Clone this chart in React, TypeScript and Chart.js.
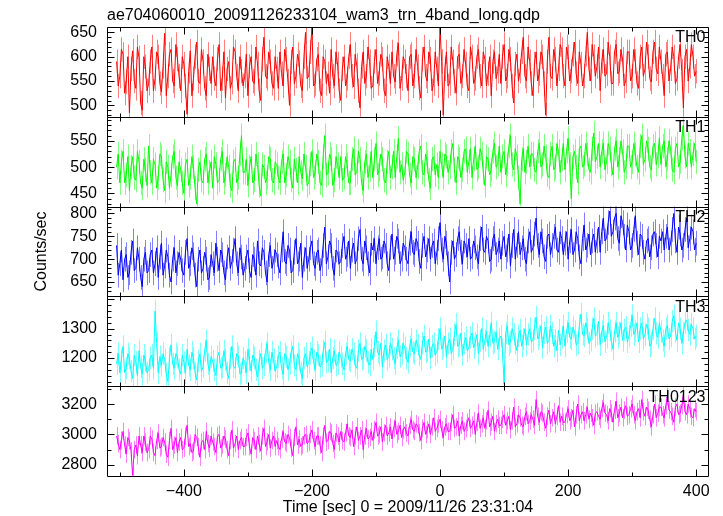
import { useEffect, useRef } from "react";
import { Chart, registerables } from "chart.js";

Chart.register(...registerables);

const titleText = "ae704060010_20091126233104_wam3_trn_4band_long.qdp";
const xTitle = "Time [sec] 0 = 2009/11/26 23:31:04";
const yTitle = "Counts/sec";

const times = [
  -505, -502.5, -500, -497.5, -495, -492.5, -490, -487.5, -485, -482.5, -480, -477.5, -475, -472.5, -470, -467.5, -465, -462.5, -460, -457.5,
  -455, -452.5, -450, -447.5, -445, -442.5, -440, -437.5, -435, -432.5, -430, -427.5, -425, -422.5, -420, -417.5, -415, -412.5, -410, -407.5,
  -405, -402.5, -400, -397.5, -395, -392.5, -390, -387.5, -385, -382.5, -380, -377.5, -375, -372.5, -370, -367.5, -365, -362.5, -360, -357.5,
  -355, -352.5, -350, -347.5, -345, -342.5, -340, -337.5, -335, -332.5, -330, -327.5, -325, -322.5, -320, -317.5, -315, -312.5, -310, -307.5,
  -305, -302.5, -300, -297.5, -295, -292.5, -290, -287.5, -285, -282.5, -280, -277.5, -275, -272.5, -270, -267.5, -265, -262.5, -260, -257.5,
  -255, -252.5, -250, -247.5, -245, -242.5, -240, -237.5, -235, -232.5, -230, -227.5, -225, -222.5, -220, -217.5, -215, -212.5, -210, -207.5,
  -205, -202.5, -200, -197.5, -195, -192.5, -190, -187.5, -185, -182.5, -180, -177.5, -175, -172.5, -170, -167.5, -165, -162.5, -160, -157.5,
  -155, -152.5, -150, -147.5, -145, -142.5, -140, -137.5, -135, -132.5, -130, -127.5, -125, -122.5, -120, -117.5, -115, -112.5, -110, -107.5,
  -105, -102.5, -100, -97.5, -95, -92.5, -90, -87.5, -85, -82.5, -80, -77.5, -75, -72.5, -70, -67.5, -65, -62.5, -60, -57.5,
  -55, -52.5, -50, -47.5, -45, -42.5, -40, -37.5, -35, -32.5, -30, -27.5, -25, -22.5, -20, -17.5, -15, -12.5, -10, -7.5,
  -5, -2.5, 0, 2.5, 5, 7.5, 10, 12.5, 15, 17.5, 20, 22.5, 25, 27.5, 30, 32.5, 35, 37.5, 40, 42.5,
  45, 47.5, 50, 52.5, 55, 57.5, 60, 62.5, 65, 67.5, 70, 72.5, 75, 77.5, 80, 82.5, 85, 87.5, 90, 92.5,
  95, 97.5, 100, 102.5, 105, 107.5, 110, 112.5, 115, 117.5, 120, 122.5, 125, 127.5, 130, 132.5, 135, 137.5, 140, 142.5,
  145, 147.5, 150, 152.5, 155, 157.5, 160, 162.5, 165, 167.5, 170, 172.5, 175, 177.5, 180, 182.5, 185, 187.5, 190, 192.5,
  195, 197.5, 200, 202.5, 205, 207.5, 210, 212.5, 215, 217.5, 220, 222.5, 225, 227.5, 230, 232.5, 235, 237.5, 240, 242.5,
  245, 247.5, 250, 252.5, 255, 257.5, 260, 262.5, 265, 267.5, 270, 272.5, 275, 277.5, 280, 282.5, 285, 287.5, 290, 292.5,
  295, 297.5, 300, 302.5, 305, 307.5, 310, 312.5, 315, 317.5, 320, 322.5, 325, 327.5, 330, 332.5, 335, 337.5, 340, 342.5,
  345, 347.5, 350, 352.5, 355, 357.5, 360, 362.5, 365, 367.5, 370, 372.5, 375, 377.5, 380, 382.5, 385, 387.5, 390, 392.5,
  395, 397.5, 400,
];

const th0 = [
  590, 540, 560, 615, 605, 525, 548, 600, 485, 575, 612, 550, 535, 620, 598, 505, 490, 600, 580, 530,
  545, 590, 620, 530, 555, 610, 600, 545, 528, 580, 648, 520, 560, 605, 615, 550, 540, 625, 595, 560,
  530, 600, 585, 540, 482, 570, 612, 520, 555, 600, 630, 550, 545, 615, 590, 535, 520, 605, 575, 545,
  600, 555, 540, 595, 625, 530, 555, 610, 515, 575, 590, 535, 548, 620, 610, 560, 530, 600, 570, 540,
  560, 605, 520, 580, 600, 550, 545, 620, 585, 530, 510, 595, 640, 560, 555, 610, 590, 545, 535, 600,
  575, 535, 610, 565, 540, 615, 595, 550, 500, 590, 620, 545, 560, 605, 588, 540, 530, 600, 650, 555,
  560, 610, 660, 540, 545, 595, 605, 530, 520, 600, 590, 545, 565, 525, 615, 560, 540, 610, 585, 530,
  510, 575, 600, 540, 555, 600, 625, 560, 538, 605, 582, 530, 495, 580, 610, 545, 560, 620, 590, 535,
  540, 590, 615, 545, 565, 605, 595, 530, 520, 600, 580, 545, 610, 560, 548, 605, 628, 535, 555, 600,
  590, 560, 530, 600, 605, 540, 560, 615, 580, 535, 515, 595, 620, 560, 550, 610, 595, 530, 545, 610,
  575, 540, 660, 590, 480, 575, 610, 540, 545, 620, 590, 550, 525, 600, 605, 545, 560, 615, 585, 540,
  530, 620, 600, 545, 555, 600, 615, 560, 540, 610, 595, 540, 565, 600, 520, 590, 610, 555, 570, 605,
  545, 600, 625, 550, 560, 615, 595, 540, 505, 585, 605, 550, 570, 610, 640, 560, 550, 620, 590, 545,
  520, 585, 610, 550, 565, 610, 600, 545, 480, 590, 640, 560, 555, 615, 595, 540, 575, 625, 615, 560,
  540, 620, 600, 550, 570, 605, 630, 565, 545, 610, 585, 540, 560, 605, 650, 575, 550, 625, 600, 560,
  580, 620, 530, 590, 615, 560, 565, 630, 600, 545, 545, 610, 625, 565, 570, 615, 595, 540, 550, 610,
  610, 550, 560, 615, 590, 545, 535, 600, 620, 560, 575, 630, 600, 555, 548, 610, 630, 575, 565, 620,
  590, 560, 520, 605, 610, 550, 575, 620, 600, 545, 555, 600, 625, 570, 495, 600, 615, 550, 580, 625,
  600, 560, 570,
];

const th1 = [
  500, 525, 470, 510, 530, 470, 485, 520, 455, 500, 520, 480, 475, 530, 510, 470, 460, 515, 495, 465,
  540, 490, 470, 515, 505, 460, 480, 525, 520, 475, 455, 510, 500, 460, 485, 520, 530, 480, 465, 510,
  495, 470, 450, 505, 515, 465, 480, 520, 500, 460, 430, 495, 510, 475, 470, 515, 525, 470, 490, 510,
  460, 520, 505, 470, 475, 515, 530, 470, 485, 520, 500, 465, 455, 510, 515, 470, 480, 525, 560, 490,
  490, 515, 465, 500, 520, 470, 475, 525, 505, 465, 445, 505, 500, 470, 480, 520, 515, 475, 470, 510,
  505, 480, 470, 510, 525, 470, 485, 520, 510, 475, 460, 515, 495, 470, 520, 490, 478, 525, 500, 465,
  470, 505, 530, 480, 490, 525, 510, 470, 465, 520, 560, 485, 488, 525, 515, 465, 475, 520, 505, 480,
  520, 475, 480, 520, 505, 470, 470, 515, 535, 485, 490, 530, 515, 470, 455, 510, 525, 480, 495, 530,
  480, 515, 545, 485, 495, 525, 515, 475, 470, 510, 530, 480, 500, 530, 480, 520, 555, 490, 505, 475,
  490, 530, 525, 485, 470, 520, 515, 480, 500, 530, 540, 490, 485, 525, 510, 475, 460, 515, 520, 485,
  505, 480, 530, 505, 480, 525, 520, 490, 500, 530, 545, 495, 470, 520, 515, 480, 495, 530, 535, 490,
  510, 535, 480, 515, 540, 495, 500, 535, 525, 490, 465, 520, 515, 485, 495, 530, 545, 500, 505, 540,
  490, 520, 530, 485, 505, 540, 560, 505, 495, 535, 520, 480, 430, 515, 535, 490, 510, 540, 500, 525,
  525, 495, 490, 530, 545, 500, 505, 540, 520, 485, 480, 525, 540, 495, 500, 545, 530, 490, 515, 545,
  495, 530, 555, 505, 440, 520, 530, 500, 470, 535, 540, 500, 505, 545, 525, 495, 490, 535, 565, 510,
  520, 545, 500, 530, 545, 495, 510, 545, 535, 505, 485, 535, 550, 500, 515, 550, 530, 490, 500, 540,
  540, 500, 510, 545, 525, 500, 490, 540, 560, 505, 515, 550, 535, 500, 495, 540, 545, 505, 520, 555,
  505, 540, 550, 500, 515, 550, 535, 495, 490, 535, 545, 500, 510, 555, 580, 520, 500, 545, 530, 500,
  525, 545, 510,
];

const th2 = [
  730, 665, 690, 720, 655, 700, 710, 660, 670, 715, 740, 675, 680, 725, 700, 660, 640, 700, 715, 670,
  675, 710, 720, 670, 690, 725, 660, 705, 735, 665, 685, 720, 705, 665, 650, 700, 725, 670, 690, 715,
  700, 675, 665, 715, 745, 680, 690, 725, 710, 665, 640, 700, 720, 670, 680, 715, 700, 655, 660, 710,
  690, 670, 735, 700, 675, 720, 710, 670, 655, 705, 725, 680, 695, 720, 745, 690, 670, 725, 705, 665,
  680, 705, 720, 675, 660, 710, 700, 665, 740, 690, 685, 725, 715, 670, 650, 710, 730, 680, 695, 720,
  710, 685, 670, 720, 760, 695, 690, 730, 720, 670, 675, 715, 745, 690, 700, 735, 660, 700, 725, 680,
  700, 725, 740, 690, 680, 715, 720, 675, 690, 730, 770, 690, 705, 740, 730, 680, 665, 720, 715, 690,
  695, 730, 750, 700, 710, 740, 680, 720, 735, 690, 700, 745, 765, 700, 690, 740, 725, 690, 670, 735,
  720, 745, 690, 725, 745, 700, 705, 740, 730, 690, 675, 725, 755, 700, 715, 750, 740, 690, 700, 735,
  725, 700, 690, 735, 760, 715, 710, 745, 735, 695, 680, 730, 750, 705, 720, 745, 700, 730, 740, 690,
  715, 745, 780, 720, 700, 750, 735, 690, 650, 715, 740, 700, 710, 745, 760, 715, 690, 740, 730, 705,
  745, 700, 705, 740, 725, 705, 690, 745, 770, 720, 715, 750, 740, 695, 700, 745, 755, 710, 720, 740,
  700, 735, 750, 705, 720, 755, 685, 730, 765, 700, 730, 760, 710, 725, 745, 700, 690, 740, 760, 715,
  725, 755, 790, 730, 710, 760, 740, 705, 695, 750, 755, 710, 730, 750, 770, 720, 715, 760, 745, 710,
  735, 760, 700, 740, 765, 710, 720, 760, 745, 705, 690, 745, 775, 720, 730, 755, 710, 740, 755, 715,
  740, 770, 715, 760, 790, 740, 745, 780, 805, 750, 760, 790, 800, 745, 735, 795, 780, 750, 720, 775,
  760, 720, 730, 765, 795, 735, 710, 755, 750, 715, 700, 740, 745, 705, 725, 755, 760, 730, 705, 750,
  740, 760, 720, 750, 770, 720, 735, 765, 800, 740, 715, 770, 755, 720, 730, 765, 790, 725, 745, 770,
  760, 720, 735,
];

const th3 = [
  1180, 1215, 1150, 1195, 1240, 1150, 1165, 1215, 1200, 1155, 1130, 1210, 1185, 1140, 1225, 1170, 1145, 1210, 1190, 1150,
  1160, 1200, 1210, 1165, 1360, 1250, 1150, 1205, 1175, 1215, 1195, 1145, 1120, 1200, 1245, 1180, 1165, 1215, 1205, 1160,
  1145, 1210, 1185, 1150, 1230, 1175, 1160, 1220, 1200, 1150, 1125, 1190, 1215, 1155, 1170, 1225, 1260, 1180, 1155, 1205,
  1190, 1160, 1140, 1205, 1220, 1165, 1170, 1225, 1195, 1150, 1130, 1200, 1240, 1170, 1165, 1215, 1205, 1145, 1150, 1200,
  1185, 1150, 1230, 1195, 1155, 1210, 1200, 1160, 1135, 1190, 1215, 1165, 1175, 1220, 1250, 1185, 1160, 1220, 1195, 1155,
  1170, 1205, 1220, 1165, 1145, 1215, 1205, 1160, 1180, 1220, 1240, 1175, 1160, 1215, 1195, 1150, 1130, 1200, 1215, 1170,
  1185, 1215, 1235, 1190, 1160, 1220, 1210, 1170, 1175, 1225, 1255, 1185, 1190, 1230, 1150, 1200, 1225, 1175, 1180, 1220,
  1205, 1180, 1160, 1215, 1240, 1195, 1190, 1230, 1215, 1175, 1165, 1225, 1250, 1195, 1200, 1240, 1225, 1185, 1175, 1230,
  1195, 1240, 1290, 1220, 1210, 1250, 1170, 1225, 1245, 1195, 1205, 1250, 1230, 1200, 1180, 1235, 1260, 1205, 1215, 1250,
  1235, 1200, 1185, 1240, 1265, 1220, 1215, 1260, 1245, 1210, 1195, 1250, 1275, 1220, 1225, 1265, 1200, 1240, 1250, 1210,
  1220, 1265, 1300, 1230, 1240, 1275, 1205, 1250, 1265, 1215, 1230, 1280, 1315, 1240, 1245, 1285, 1210, 1250, 1270, 1225,
  1235, 1270, 1285, 1235, 1250, 1280, 1215, 1260, 1300, 1230, 1260, 1290, 1240, 1275, 1320, 1250, 1255, 1290, 1230, 1265,
  1275, 1230, 1110, 1285, 1310, 1245, 1255, 1300, 1280, 1250, 1225, 1275, 1295, 1240, 1265, 1300, 1245, 1280, 1300, 1255,
  1260, 1300, 1340, 1265, 1275, 1310, 1235, 1285, 1305, 1250, 1260, 1310, 1285, 1240, 1260, 1225, 1295, 1245, 1270, 1310,
  1240, 1290, 1320, 1270, 1265, 1305, 1290, 1245, 1250, 1310, 1350, 1280, 1275, 1320, 1300, 1250, 1260, 1300, 1335, 1275,
  1280, 1325, 1245, 1290, 1310, 1255, 1270, 1320, 1295, 1260, 1230, 1290, 1320, 1270, 1285, 1320, 1260, 1295, 1305, 1255,
  1275, 1310, 1345, 1280, 1290, 1320, 1255, 1300, 1320, 1265, 1280, 1315, 1300, 1240, 1250, 1300, 1335, 1285, 1270, 1320,
  1290, 1260, 1240, 1300, 1310, 1265, 1275, 1325, 1345, 1290, 1260, 1320, 1300, 1250, 1285, 1320, 1330, 1295, 1280, 1315,
  1300, 1265, 1275,
];

const th0123 = [
  2990, 2940, 2900, 2960, 3020, 2930, 2870, 2980, 2960, 2890, 2730, 2900, 2930, 2860, 2990, 2930, 2880, 2990, 2950, 2880,
  2900, 2990, 2970, 2880, 2860, 2960, 3010, 2910, 2920, 2980, 2950, 2870, 2850, 2960, 3040, 2900, 2930, 2980, 2880, 2950,
  2980, 2900, 2910, 2990, 3060, 2920, 2940, 2880, 2890, 3000, 2980, 2920, 2850, 2950, 2960, 2900, 3020, 2940, 2910, 2990,
  2950, 2920, 2880, 2990, 3000, 2910, 2930, 2990, 2970, 2900, 2860, 2960, 3030, 2910, 2940, 2990, 2900, 2960, 2980, 2920,
  2920, 2980, 3010, 2920, 2870, 2980, 2960, 2900, 2990, 2940, 2890, 2990, 3040, 2920, 2950, 3000, 2910, 2960, 2990, 2920,
  2960, 2920, 2900, 2970, 3020, 2950, 2940, 3000, 2980, 2910, 2860, 2980, 3050, 2930, 2970, 2920, 2930, 2990, 3000, 2940,
  2950, 3000, 3030, 2960, 2920, 2990, 2990, 2930, 2880, 2990, 3060, 2950, 2960, 3020, 3010, 2940, 2900, 3010, 2990, 2950,
  3020, 2960, 2950, 3010, 3070, 2990, 2980, 3030, 2920, 2990, 3050, 2960, 2990, 3030, 2900, 2990, 3040, 2970, 2980, 3020,
  2960, 3030, 3080, 2990, 3000, 3050, 2950, 3010, 3060, 2990, 3010, 3050, 2970, 3040, 3090, 3000, 3020, 3060, 2980, 3030,
  3050, 3010, 2990, 3060, 3100, 3030, 3020, 3070, 3060, 3010, 2960, 3040, 3080, 3000, 3030, 3070, 3000, 3050, 3110, 3020,
  3040, 3070, 3100, 3030, 2980, 3050, 3070, 3020, 3020, 3080, 3130, 3040, 3050, 3090, 2990, 3060, 3090, 3020, 3040, 3080,
  3110, 3040, 3060, 3090, 3000, 3080, 3140, 3040, 3070, 3110, 3040, 3090, 3160, 3050, 3080, 3120, 3020, 3070, 3100, 3060,
  3060, 3100, 3130, 3060, 3090, 3120, 3030, 3090, 3180, 3050, 3070, 3130, 3110, 3060, 3050, 3120, 3150, 3070, 3090, 3130,
  3100, 3060, 3230, 3120, 3080, 3150, 3140, 3080, 3040, 3120, 3160, 3070, 3110, 3150, 3070, 3120, 3190, 3080, 3120, 3080,
  3080, 3130, 3170, 3090, 3110, 3160, 3050, 3130, 3200, 3090, 3130, 3150, 3090, 3130, 3180, 3100, 3140, 3110, 3060, 3140,
  3150, 3120, 3100, 3170, 3210, 3140, 3130, 3090, 3170, 3140, 3080, 3160, 3220, 3110, 3140, 3180, 3110, 3160, 3190, 3120,
  3130, 3170, 3200, 3130, 3090, 3150, 3170, 3110, 3230, 3150, 3120, 3180, 3160, 3100, 3050, 3130, 3200, 3110, 3140, 3180,
  3180, 3130, 3110, 3190, 3250, 3160, 3150, 3120, 3080, 3180, 3200, 3130, 3140, 3190, 3260, 3150, 3130, 3200, 3170, 3120,
  3110, 3170, 3150,
];

const panelNames = ["TH0", "TH1", "TH2", "TH3", "TH0123"];
const panelSeries = [th0, th1, th2, th3, th0123];
const panelErrors = [25, 23, 27, 38, 58];
const panelColors = ["#ff0000", "#00ff00", "#0000ff", "#00ffff", "#ff00ff"];
const errorColors = ["rgba(255,0,0,0.5)", "rgba(0,255,0,0.5)", "rgba(0,0,255,0.5)", "rgba(0,255,255,0.5)", "rgba(255,0,255,0.5)"];
const yMins = [476.6, 425, 618.6, 1104, 2726];
const yMaxs = [661, 595.6, 815, 1410, 3318];
const yLabelTicks = [
  [500, 550, 600, 650],
  [450, 500, 550],
  [650, 700, 750, 800],
  [1200, 1300],
  [2800, 3000, 3200],
];
const yMinorSteps = [10, 10, 10, 20, 100];
const yMajorSteps = [50, 50, 50, 100, 200];
const xLabelTicks = [-400, -200, 0, 200, 400];
const xTickValues = [-500, -400, -300, -200, -100, 0, 100, 200, 300, 400];
const xMin = -520;
const xMax = 420;

const FONT = '"Liberation Sans", Arial, Helvetica, sans-serif';

const errorBarPlugin = {
  id: "qdpErrorBars",
  beforeDatasetsDraw(chart: any) {
    const ctx = chart.ctx;
    const xs = chart.scales.x;
    ctx.save();
    ctx.lineWidth = 1;
    panelSeries.forEach((vals, i) => {
      const ys = chart.scales["y" + i];
      ctx.save();
      ctx.beginPath();
      ctx.rect(chart.chartArea.left, ys.top, chart.chartArea.right - chart.chartArea.left, ys.bottom - ys.top);
      ctx.clip();
      ctx.strokeStyle = errorColors[i];
      ctx.beginPath();
      const err = panelErrors[i];
      vals.forEach((v, k) => {
        const x = Math.round(xs.getPixelForValue(times[k])) + 0.5;
        ctx.moveTo(x, ys.getPixelForValue(v - err));
        ctx.lineTo(x, ys.getPixelForValue(v + err));
      });
      ctx.stroke();
      ctx.restore();
    });
    ctx.restore();
  },
};

const framePlugin = {
  id: "qdpFrames",
  afterDraw(chart: any) {
    const ctx = chart.ctx;
    const xs = chart.scales.x;
    const l = Math.round(chart.chartArea.left) + 0.5;
    const r = Math.round(chart.chartArea.right) - 0.5;
    ctx.save();
    ctx.strokeStyle = "#000";
    ctx.lineWidth = 1;
    panelNames.forEach((name, i) => {
      const ys = chart.scales["y" + i];
      const top = Math.round(ys.top) + 0.5;
      const bottom = Math.round(ys.bottom) + 0.5;
      ctx.beginPath();
      ctx.rect(l, top, r - l, bottom - top);
      const step = yMinorSteps[i];
      for (let v = Math.ceil(ys.min / step) * step; v <= ys.max; v += step) {
        const y = Math.round(ys.getPixelForValue(v)) + 0.5;
        const len = v % yMajorSteps[i] === 0 ? 7 : 4;
        ctx.moveTo(l, y);
        ctx.lineTo(l + len, y);
        ctx.moveTo(r, y);
        ctx.lineTo(r - len, y);
      }
      xTickValues.forEach((v) => {
        const x = Math.round(xs.getPixelForValue(v)) + 0.5;
        const len = v % 200 === 0 ? 7 : 4;
        ctx.moveTo(x, top);
        ctx.lineTo(x, top + len);
        ctx.moveTo(x, bottom);
        ctx.lineTo(x, bottom - len);
      });
      ctx.stroke();
      ctx.fillStyle = "#000";
      ctx.font = "16px " + FONT;
      ctx.textAlign = "right";
      ctx.textBaseline = "middle";
      ctx.fillText(name, r - 3, ys.top + 11);
    });
    ctx.restore();
  },
};

export default function App() {
  const canvasRef = useRef<HTMLCanvasElement | null>(null);

  useEffect(() => {
    const canvas = canvasRef.current;
    if (!canvas) return;
    Chart.defaults.font.family = FONT;
    Chart.defaults.font.size = 16;
    Chart.defaults.color = "#000";

    const scales: any = {
      x: {
        type: "linear",
        position: "bottom",
        min: xMin,
        max: xMax,
        grid: { display: false, drawTicks: false },
        border: { display: false },
        ticks: {
          autoSkip: false,
          maxRotation: 0,
          padding: 6,
          font: { size: 16 },
          color: "#000",
          callback: (v: any) => (v < 0 ? "\u2212" + Math.abs(v) : String(v)),
        },
        afterBuildTicks: (s: any) => {
          s.ticks = xLabelTicks.map((v) => ({ value: v }));
        },
        afterFit: (s: any) => {
          s.height = 40;
        },
        title: {
          display: true,
          text: xTitle,
          font: { size: 16 },
          color: "#000",
          padding: { top: 0, bottom: -1.5 },
        },
      },
    };

    panelNames.forEach((_, i) => {
      scales["y" + i] = {
        type: "linear",
        position: "left",
        stack: "panels",
        stackWeight: 1,
        weight: 10 - i,
        min: yMins[i],
        max: yMaxs[i],
        grid: { display: false, drawTicks: false },
        border: { display: false },
        ticks: {
          autoSkip: false,
          padding: 10,
          font: { size: 16 },
          color: "#000",
          callback: (v: any) => String(v),
        },
        afterBuildTicks: (s: any) => {
          s.ticks = yLabelTicks[i].map((v) => ({ value: v }));
        },
        afterFit: (s: any) => {
          s.width = 107;
        },
        title: {
          display: i === 2,
          text: yTitle,
          font: { size: 16 },
          color: "#000",
          padding: { top: 32, bottom: 0 },
        },
      };
    });

    const datasets = panelSeries.map((vals, i) => ({
      label: panelNames[i],
      data: times.map((t, k) => ({ x: t, y: vals[k] })),
      yAxisID: "y" + i,
      xAxisID: "x",
      borderColor: panelColors[i],
      backgroundColor: panelColors[i],
      borderWidth: 1,
      pointRadius: 0,
      tension: 0,
      fill: false,
    }));

    const chart = new Chart(canvas, {
      type: "line",
      data: { datasets },
      options: {
        responsive: false,
        animation: false,
        layout: { padding: { left: 0, right: 14, top: 0, bottom: 0 } },
        plugins: {
          legend: { display: false },
          tooltip: { enabled: false },
          title: {
            display: true,
            text: titleText,
            align: "start",
            fullSize: false,
            color: "#000",
            font: { size: 16, weight: "normal" },
            padding: { top: 6, bottom: 1.8 },
          },
        },
        scales,
      },
      plugins: [errorBarPlugin, framePlugin],
    } as any);

    return () => chart.destroy();
  }, []);

  return (
    <div style={{ position: "fixed", left: 0, top: 0, width: 723, height: 516, background: "#fff" }}>
      <canvas ref={canvasRef} width={723} height={516} style={{ display: "block" }} />
    </div>
  );
}
